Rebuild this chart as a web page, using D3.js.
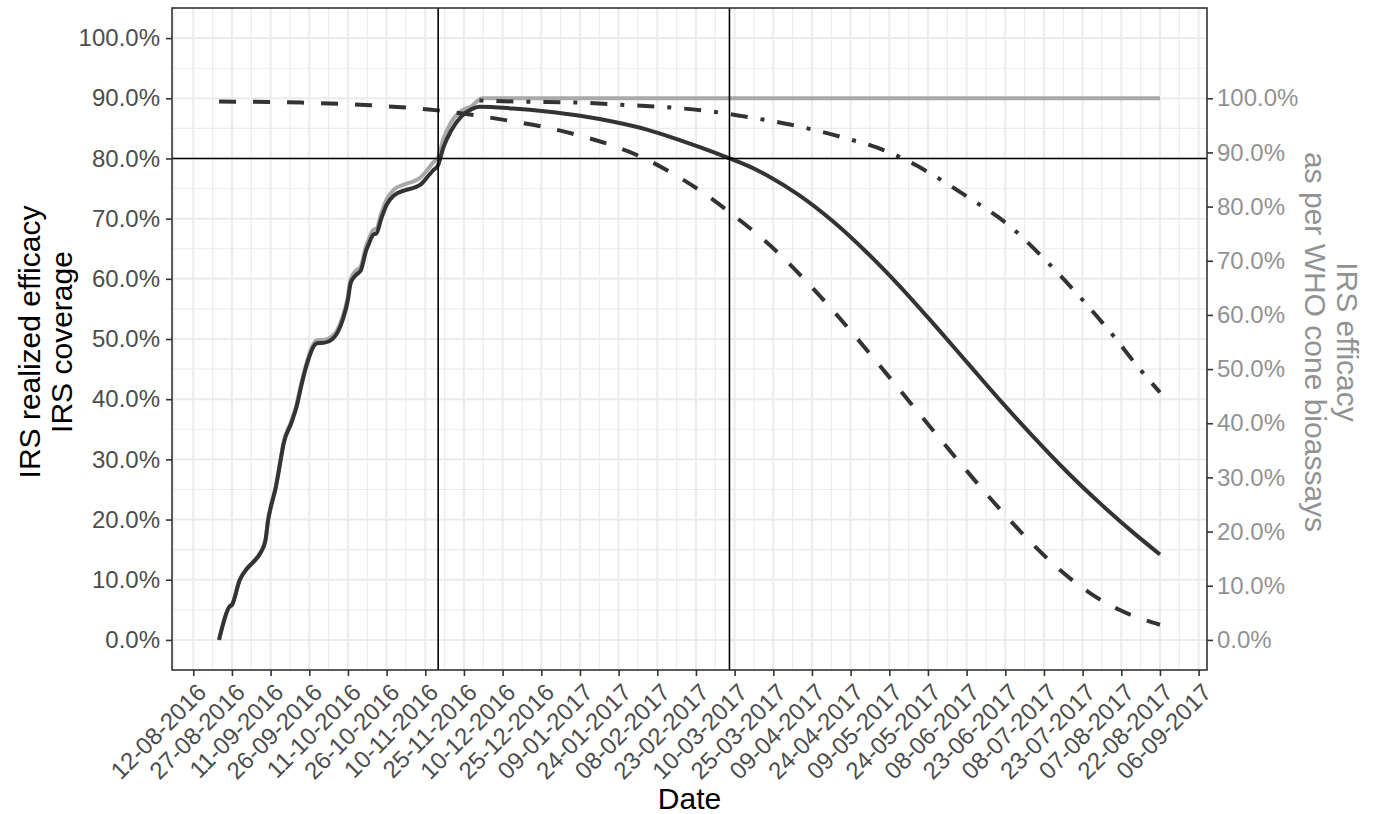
<!DOCTYPE html>
<html>
<head>
<meta charset="utf-8">
<script src="https://cdn.jsdelivr.net/npm/d3@7"></script>
<style>
  body { margin: 0; background: #fff; }
  text { font-family: "Liberation Sans", Arial, sans-serif; }
</style>
</head>
<body>
<svg id="chart" width="1376" height="814"></svg>
<script>
// IRS coverage (left axis, %)
const coverageDates = ['2016-08-22', '2016-08-26', '2016-08-27', '2016-08-30', '2016-09-02', '2016-09-04', '2016-09-07', '2016-09-09', '2016-09-10', '2016-09-11', '2016-09-13', '2016-09-15', '2016-09-16', '2016-09-19', '2016-09-21', '2016-09-23', '2016-09-25', '2016-09-29', '2016-10-02', '2016-10-05', '2016-10-07', '2016-10-09', '2016-10-11', '2016-10-12', '2016-10-14', '2016-10-16', '2016-10-18', '2016-10-19', '2016-10-21', '2016-10-22', '2016-10-24', '2016-10-26', '2016-10-29', '2016-11-02', '2016-11-06', '2016-11-08', '2016-11-11', '2016-11-13', '2016-11-15', '2016-11-17', '2016-11-20', '2016-11-24', '2016-11-28', '2016-12-01', '2016-12-02', '2017-08-22'];
const coverageValues = [0.0, 5.5, 5.9, 10.0, 12.0, 12.9, 14.5, 16.6, 20.0, 22.1, 25.5, 30.4, 32.8, 36.3, 39.0, 42.8, 46.1, 49.8, 49.9, 50.5, 51.6, 53.8, 57.1, 59.9, 61.3, 62.1, 65.4, 66.5, 68.2, 68.3, 71.0, 73.2, 74.9, 75.7, 76.3, 76.8, 78.2, 79.3, 80.2, 83.2, 86.0, 87.9, 88.7, 89.8, 90.0, 90.0];

// IRS realized efficacy (left axis, %)
const realizedDates = ['2016-08-22', '2016-08-26', '2016-08-27', '2016-08-30', '2016-09-02', '2016-09-04', '2016-09-07', '2016-09-09', '2016-09-10', '2016-09-11', '2016-09-13', '2016-09-15', '2016-09-16', '2016-09-19', '2016-09-21', '2016-09-23', '2016-09-25', '2016-09-29', '2016-10-02', '2016-10-05', '2016-10-07', '2016-10-09', '2016-10-11', '2016-10-12', '2016-10-14', '2016-10-16', '2016-10-18', '2016-10-19', '2016-10-21', '2016-10-22', '2016-10-24', '2016-10-26', '2016-10-29', '2016-11-02', '2016-11-06', '2016-11-08', '2016-11-11', '2016-11-13', '2016-11-15', '2016-11-17', '2016-11-20', '2016-11-24', '2016-11-28', '2016-12-01', '2016-12-14', '2016-12-27', '2017-01-09', '2017-01-22', '2017-02-04', '2017-02-17', '2017-03-02', '2017-03-08', '2017-03-15', '2017-03-23', '2017-04-04', '2017-04-17', '2017-04-30', '2017-05-13', '2017-05-26', '2017-06-08', '2017-06-21', '2017-07-04', '2017-07-17', '2017-07-30', '2017-08-12', '2017-08-22'];
const realizedValues = [0.0, 5.5, 5.8, 9.9, 11.9, 12.8, 14.4, 16.5, 19.8, 21.9, 25.3, 30.1, 32.5, 36.0, 38.6, 42.4, 45.7, 49.3, 49.4, 50.0, 51.1, 53.2, 56.5, 59.2, 60.6, 61.4, 64.6, 65.7, 67.4, 67.5, 70.1, 72.3, 73.9, 74.7, 75.2, 75.6, 77.0, 78.0, 78.9, 81.8, 84.6, 87.0, 88.2, 88.6, 88.3, 87.8, 87.1, 86.1, 84.8, 83.0, 81.0, 80.0, 78.8, 77.1, 73.9, 69.6, 64.5, 58.8, 52.6, 46.2, 39.8, 33.7, 27.9, 22.6, 17.7, 14.2];

// IRS efficacy per WHO cone bioassays (right axis, %), from first and from last spray date
const firstSprayDates = ['2016-08-22', '2016-09-23', '2016-10-20', '2016-11-16', '2016-12-12', '2016-12-26', '2017-01-09', '2017-01-22', '2017-02-03', '2017-02-14', '2017-02-26', '2017-03-09', '2017-03-19', '2017-03-29', '2017-04-08', '2017-04-17', '2017-04-25', '2017-05-04', '2017-05-13', '2017-05-27', '2017-06-07', '2017-06-21', '2017-07-04', '2017-07-14', '2017-07-26', '2017-08-06', '2017-08-22'];
const firstSprayEfficacy = [99.4, 99.2, 98.7, 97.7, 95.9, 94.7, 93.1, 91.2, 88.9, 86.1, 82.5, 78.6, 74.8, 70.5, 65.6, 60.9, 56.5, 51.4, 46.2, 38.1, 31.8, 24.1, 17.5, 13.0, 8.6, 5.6, 2.8];
const lastSprayDates = ['2016-12-01', '2016-12-14', '2017-01-09', '2017-01-25', '2017-02-10', '2017-03-02', '2017-03-13', '2017-04-01', '2017-04-20', '2017-05-07', '2017-05-16', '2017-05-25', '2017-06-09', '2017-06-24', '2017-07-08', '2017-07-22', '2017-08-04', '2017-08-14', '2017-08-22'];
const lastSprayEfficacy = [99.6, 99.4, 99.2, 98.8, 98.4, 97.5, 96.7, 95.1, 92.9, 90.4, 88.5, 86.1, 81.6, 76.7, 70.4, 63.3, 56.1, 50.1, 45.7];

// secondary axis: right % = left % / 0.9
const secAxisFactor = 0.9;
const leftTicks = [0, 10, 20, 30, 40, 50, 60, 70, 80, 90, 100];
const rightTicks = [0, 10, 20, 30, 40, 50, 60, 70, 80, 90, 100];
const xTickLabels = ['12-08-2016', '27-08-2016', '11-09-2016', '26-09-2016', '11-10-2016', '26-10-2016', '10-11-2016', '25-11-2016', '10-12-2016', '25-12-2016', '09-01-2017', '24-01-2017', '08-02-2017', '23-02-2017', '10-03-2017', '25-03-2017', '09-04-2017', '24-04-2017', '09-05-2017', '24-05-2017', '08-06-2017', '23-06-2017', '08-07-2017', '23-07-2017', '07-08-2017', '22-08-2017', '06-09-2017'];

// reference lines: 80% target, date coverage hit 80%, date realized efficacy fell below 80%
const refLevel = 80;
const refDates = ['2016-11-15', '2017-03-08'];

const parseIso = d3.utcParse('%Y-%m-%d');
const parseTick = d3.utcParse('%d-%m-%Y');
const fmtTick = d3.utcFormat('%d-%m-%Y');

const zip = (dates, vals) => dates.map((d, i) => ({ date: parseIso(d), value: vals[i] }));
const coverage = zip(coverageDates, coverageValues);
const realized = zip(realizedDates, realizedValues);
const firstSpray = zip(firstSprayDates, firstSprayEfficacy);
const lastSpray = zip(lastSprayDates, lastSprayEfficacy);

const panel = { left: 172, right: 1207, top: 8, bottom: 670 };

// ggplot-style 5% expansion on the date range
const ext = d3.extent(coverage, (d) => d.date);
const pad = (ext[1] - ext[0]) * 0.05;
const x = d3.scaleUtc()
  .domain([new Date(+ext[0] - pad), new Date(+ext[1] + pad)])
  .range([panel.left, panel.right]);
const y = d3.scaleLinear().domain([-5, 105]).range([panel.bottom, panel.top]);
const yRight = d3.scaleLinear()
  .domain([-5 / secAxisFactor, 105 / secAxisFactor])
  .range([panel.bottom, panel.top]);

const svg = d3.select('#chart');

// grid
const tickDates = xTickLabels.map(parseTick);
const minorDates = [d3.utcHour.offset(tickDates[0], -180)]
  .concat(tickDates.map((d) => d3.utcHour.offset(d, 180)))
  .filter((d) => x(d) > panel.left && x(d) < panel.right);
const grid = svg.append('g');
grid.selectAll('.hmin').data(leftTicks.slice(0, -1).map((v) => v + 5)).join('line')
  .attr('x1', panel.left).attr('x2', panel.right)
  .attr('y1', (d) => y(d)).attr('y2', (d) => y(d))
  .attr('stroke', '#ebebeb').attr('stroke-width', 1.1);
grid.selectAll('.vmin').data(minorDates).join('line')
  .attr('y1', panel.top).attr('y2', panel.bottom)
  .attr('x1', (d) => x(d)).attr('x2', (d) => x(d))
  .attr('stroke', '#ebebeb').attr('stroke-width', 1.1);
grid.selectAll('.hmaj').data(leftTicks).join('line')
  .attr('x1', panel.left).attr('x2', panel.right)
  .attr('y1', (d) => y(d)).attr('y2', (d) => y(d))
  .attr('stroke', '#ebebeb').attr('stroke-width', 2);
grid.selectAll('.vmaj').data(tickDates).join('line')
  .attr('y1', panel.top).attr('y2', panel.bottom)
  .attr('x1', (d) => x(d)).attr('x2', (d) => x(d))
  .attr('stroke', '#ebebeb').attr('stroke-width', 2);

// series
const line = d3.line()
  .x((d) => x(d.date))
  .y((d) => y(d.value))
  .curve(d3.curveMonotoneX);
const lineRight = d3.line()
  .x((d) => x(d.date))
  .y((d) => yRight(d.value))
  .curve(d3.curveMonotoneX);

svg.append('path').datum(coverage).attr('d', line)
  .attr('fill', 'none').attr('stroke', '#a9a9a9').attr('stroke-width', 4)
  .attr('stroke-linejoin', 'round');
svg.append('path').datum(firstSpray).attr('d', lineRight)
  .attr('fill', 'none').attr('stroke', '#333').attr('stroke-width', 4)
  .attr('stroke-dasharray', '17,17');
svg.append('path').datum(lastSpray).attr('d', lineRight)
  .attr('fill', 'none').attr('stroke', '#333').attr('stroke-width', 4)
  .attr('stroke-dasharray', '4,13,17,13');
svg.append('path').datum(realized).attr('d', line)
  .attr('fill', 'none').attr('stroke', '#333').attr('stroke-width', 4)
  .attr('stroke-linejoin', 'round');

// reference lines
svg.append('line')
  .attr('x1', panel.left).attr('x2', panel.right)
  .attr('y1', y(refLevel)).attr('y2', y(refLevel))
  .attr('stroke', '#000').attr('stroke-width', 1.6);
svg.selectAll('.vref').data(refDates.map(parseIso)).join('line')
  .attr('y1', panel.top).attr('y2', panel.bottom)
  .attr('x1', (d) => x(d)).attr('x2', (d) => x(d))
  .attr('stroke', '#000').attr('stroke-width', 1.6);

// panel border
svg.append('rect')
  .attr('x', panel.left).attr('y', panel.top)
  .attr('width', panel.right - panel.left).attr('height', panel.bottom - panel.top)
  .attr('fill', 'none').attr('stroke', '#333').attr('stroke-width', 1.6);

// axes
const pct = (d) => `${d.toFixed(1)}%`;
const styleAxis = (g, color) => {
  g.select('.domain').remove();
  g.selectAll('.tick line').attr('stroke', '#333').attr('stroke-width', 1.6);
  g.selectAll('.tick text').attr('fill', color).style('font-size', '24px')
    .style('font-family', '"Liberation Sans", Arial, sans-serif');
};

svg.append('g')
  .attr('transform', `translate(${panel.left},0)`)
  .call(d3.axisLeft(y).tickValues(leftTicks).tickFormat(pct).tickSize(6).tickPadding(6))
  .call((g) => styleAxis(g, '#4d4d4d'));

svg.append('g')
  .attr('transform', `translate(${panel.right},0)`)
  .call(d3.axisRight(yRight).tickValues(rightTicks).tickFormat(pct).tickSize(6).tickPadding(4))
  .call((g) => styleAxis(g, '#929292'));

svg.append('g')
  .attr('transform', `translate(0,${panel.bottom})`)
  .call(d3.axisBottom(x).tickValues(tickDates).tickFormat(fmtTick).tickSize(6))
  .call((g) => {
    styleAxis(g, '#4d4d4d');
    g.selectAll('.tick text')
      .attr('x', 0).attr('y', 0).attr('dy', '0.7em')
      .attr('text-anchor', 'end')
      .attr('transform', 'translate(2,12) rotate(-45)');
  });

// titles
svg.append('text')
  .attr('x', (panel.left + panel.right) / 2).attr('y', 809)
  .attr('text-anchor', 'middle').attr('fill', '#000')
  .style('font-size', '30px').text('Date');

const yMid = (panel.top + panel.bottom) / 2 + 3;
const leftTitle = svg.append('text')
  .attr('transform', `translate(40,${yMid}) rotate(-90)`)
  .attr('text-anchor', 'middle').attr('fill', '#000').style('font-size', '30px');
leftTitle.append('tspan').attr('x', 0).attr('y', 0).text('IRS realized efficacy');
leftTitle.append('tspan').attr('x', 0).attr('y', 32).text('IRS coverage');

const rightTitle = svg.append('text')
  .attr('transform', `translate(1337,${yMid}) rotate(90)`)
  .attr('text-anchor', 'middle').attr('fill', '#929292').style('font-size', '30px');
rightTitle.append('tspan').attr('x', 0).attr('y', 0).text('IRS efficacy');
rightTitle.append('tspan').attr('x', 0).attr('y', 32).text('as per WHO cone bioassays');
</script>
</body>
</html>
